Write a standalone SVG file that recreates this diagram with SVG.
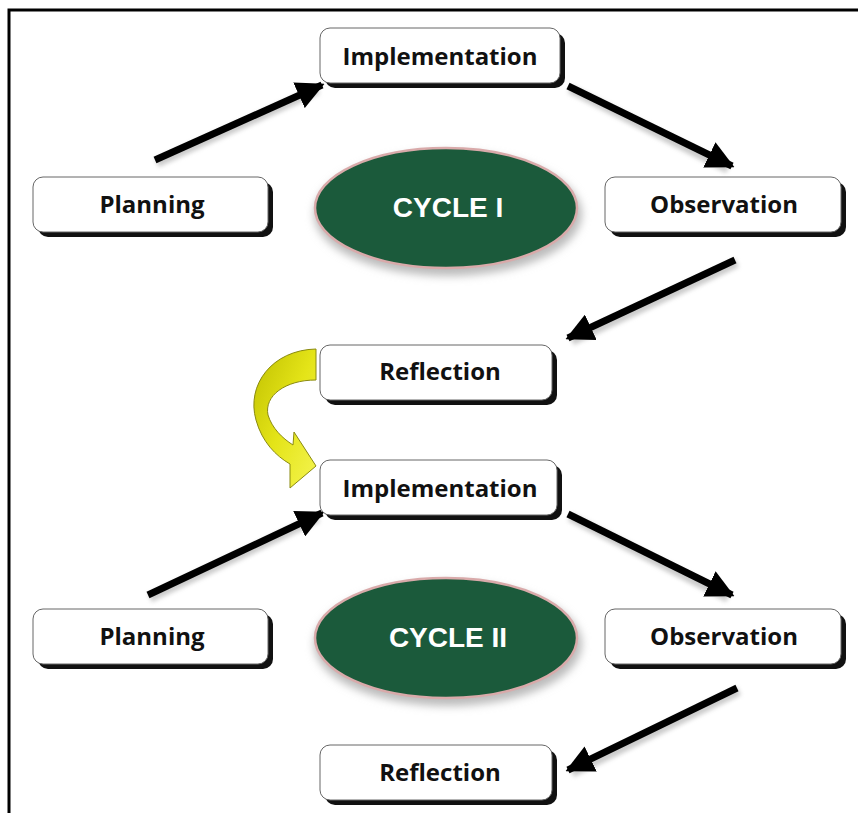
<svg xmlns="http://www.w3.org/2000/svg" width="858" height="813" viewBox="0 0 858 813">
<defs>
<style>
.box{fill:#fff;stroke:#666;stroke-width:1}
.shadow{fill:#111}
.lbl{font-family:"Open Sans","Noto Sans","Liberation Sans",sans-serif;font-weight:bold;font-size:24px;fill:#111;text-anchor:middle;dominant-baseline:central}
.cyc{font-family:"Liberation Sans",Arial,sans-serif;font-weight:bold;font-size:28px;fill:#fff;text-anchor:middle;dominant-baseline:central}
.ell{fill:#1b5a3b;stroke:#d9aaaa;stroke-width:2.5}
.arr{stroke:#000;stroke-width:7;fill:none;marker-end:url(#ah)}
.arrsh{stroke:#999;stroke-width:9;fill:none;opacity:0.5;filter:url(#blur)}
</style>
<marker id="ah" viewBox="0 0 10 10" refX="9" refY="5" markerWidth="4" markerHeight="4" orient="auto" markerUnits="strokeWidth">
<path d="M0,0 L10,5 L0,10 Z" fill="#000"/>
</marker>
<filter id="blur" x="-20%" y="-20%" width="140%" height="140%"><feGaussianBlur stdDeviation="2"/></filter>
<filter id="eshadow" x="-20%" y="-20%" width="140%" height="150%"><feGaussianBlur stdDeviation="4"/></filter>
<linearGradient id="yel" x1="0" y1="0" x2="1" y2="1">
<stop offset="0" stop-color="#c0c000"/>
<stop offset="0.5" stop-color="#e4e418"/>
<stop offset="1" stop-color="#f4f450"/>
</linearGradient>
</defs>
<rect width="858" height="813" fill="#fff"/>
<path d="M9,813 V10 H858" fill="none" stroke="#000" stroke-width="3"/>

<g id="connectors">
<line class="arrsh" x1="157" y1="163" x2="318" y2="90"/>
<line class="arr" x1="155" y1="160" x2="322" y2="85"/>
<line class="arrsh" x1="570" y1="89" x2="728" y2="169"/>
<line class="arr" x1="568" y1="86" x2="732" y2="166"/>
<line class="arrsh" x1="737" y1="263" x2="572" y2="341"/>
<line class="arr" x1="735" y1="260" x2="568" y2="338"/>
<line class="arrsh" x1="150" y1="598" x2="318" y2="518"/>
<line class="arr" x1="148" y1="595" x2="322" y2="513"/>
<line class="arrsh" x1="570" y1="517" x2="728" y2="598"/>
<line class="arr" x1="568" y1="514" x2="732" y2="595"/>
<line class="arrsh" x1="739" y1="691" x2="572" y2="773"/>
<line class="arr" x1="737" y1="688" x2="568" y2="770"/>
<path id="yellow-arrow" d="M316,349 C272,350 246,385 256,420 C262,442 276,456 290,464 L290,488 L316,466 L294,432 L293,445 C282,438 272,428 268,415 C264,396 285,380 316,380 Z" fill="url(#yel)" stroke="#8a8a10" stroke-width="1"/>
</g>

<g id="impl1">
<rect class="shadow" x="325" y="33" width="240" height="55" rx="10"/>
<rect class="box" x="320" y="28" width="240" height="55" rx="10"/>
<text class="lbl" x="440" y="55">Implementation</text>
</g>
<g id="plan1">
<rect class="shadow" x="38" y="182" width="235" height="55" rx="10"/>
<rect class="box" x="33" y="177" width="235" height="55" rx="10"/>
<text class="lbl" x="152" y="203">Planning</text>
</g>
<g id="cycle1">
<ellipse cx="448" cy="214" rx="134" ry="62" fill="#bbb" filter="url(#eshadow)"/>
<ellipse class="ell" cx="446" cy="208" rx="131" ry="60"/>
<text class="cyc" x="448" y="207">CYCLE I</text>
</g>
<g id="obs1">
<rect class="shadow" x="610" y="182" width="236" height="55" rx="10"/>
<rect class="box" x="605" y="177" width="236" height="55" rx="10"/>
<text class="lbl" x="724" y="203">Observation</text>
</g>
<g id="refl1">
<rect class="shadow" x="325" y="350" width="232" height="55" rx="10"/>
<rect class="box" x="320" y="345" width="232" height="55" rx="10"/>
<text class="lbl" x="440" y="370">Reflection</text>
</g>

<g id="impl2">
<rect class="shadow" x="325" y="465" width="237" height="55" rx="10"/>
<rect class="box" x="320" y="460" width="237" height="55" rx="10"/>
<text class="lbl" x="440" y="487">Implementation</text>
</g>
<g id="plan2">
<rect class="shadow" x="38" y="614" width="235" height="55" rx="10"/>
<rect class="box" x="33" y="609" width="235" height="55" rx="10"/>
<text class="lbl" x="152" y="635">Planning</text>
</g>
<g id="cycle2">
<ellipse cx="448" cy="644" rx="134" ry="62" fill="#bbb" filter="url(#eshadow)"/>
<ellipse class="ell" cx="446" cy="638" rx="131" ry="60"/>
<text class="cyc" x="448" y="637">CYCLE II</text>
</g>
<g id="obs2">
<rect class="shadow" x="610" y="614" width="236" height="55" rx="10"/>
<rect class="box" x="605" y="609" width="236" height="55" rx="10"/>
<text class="lbl" x="724" y="635">Observation</text>
</g>
<g id="refl2">
<rect class="shadow" x="325" y="750" width="232" height="55" rx="10"/>
<rect class="box" x="320" y="745" width="232" height="55" rx="10"/>
<text class="lbl" x="440" y="771">Reflection</text>
</g>
</svg>
